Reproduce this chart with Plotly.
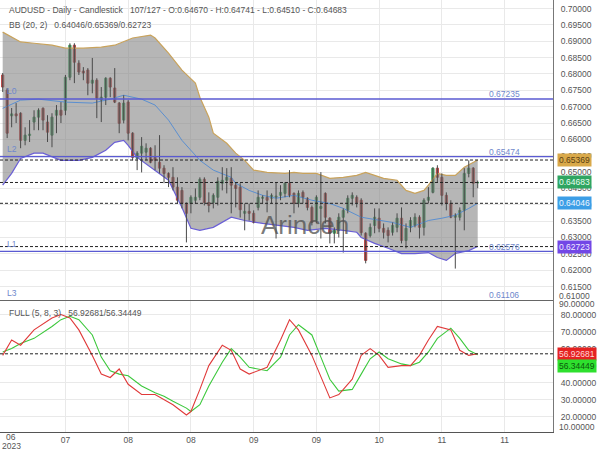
import plotly.graph_objects as go

# ---------------- data ----------------
opens = [0.6797,0.6751,0.6672,0.6678,0.6680,0.6597,0.6612,0.6653,0.6668,0.6695,
         0.6653,0.6613,0.6674,0.6689,0.6689,0.6790,0.6888,0.6833,0.6809,0.6812,
         0.6772,0.6781,0.6720,0.6729,0.6787,0.6757,0.6711,0.6659,0.6714,0.6619,
         0.6542,0.6558,0.6561,0.6573,0.6545,0.6530,0.6512,0.6496,0.6484,0.6454,
         0.6444,0.6404,0.6404,0.6414,0.6423,0.6478,0.6407,0.6407,0.6423,0.6466,
         0.6475,0.6481,0.6460,0.6454,0.6374,0.6380,0.6374,0.6392,0.6420,0.6423,
         0.6420,0.6423,0.6429,0.6435,0.6466,0.6435,0.6404,0.6438,0.6420,0.6392,
         0.6352,0.6389,0.6435,0.6359,0.6313,0.6322,0.6362,0.6383,0.6420,0.6423,
         0.6414,0.6313,0.6306,0.6337,0.6359,0.6328,0.6322,0.6316,0.6331,0.6359,
         0.6291,0.6331,0.6337,0.6362,0.6331,0.6414,0.6438,0.6512,0.6484,0.6429,
         0.6404,0.6362,0.6362,0.6383,0.6496,0.6512,0.64670]
highs = [0.6803,0.6757,0.6696,0.6711,0.6683,0.6637,0.6659,0.6689,0.6695,0.6698,
         0.6674,0.6680,0.6705,0.6714,0.6797,0.6894,0.6894,0.6842,0.6821,0.6818,
         0.6849,0.6787,0.6760,0.6790,0.6790,0.6818,0.6714,0.6735,0.6720,0.6622,
         0.6564,0.6607,0.6588,0.6576,0.6582,0.6613,0.6521,0.6499,0.6515,0.6484,
         0.6454,0.6407,0.6429,0.6450,0.6484,0.6484,0.6438,0.6435,0.6484,0.6515,
         0.6512,0.6515,0.6469,0.6466,0.6404,0.6404,0.6383,0.6444,0.6429,0.6444,
         0.6435,0.6469,0.6460,0.6469,0.6506,0.6438,0.6444,0.6444,0.6423,0.6398,
         0.6429,0.6500,0.6438,0.6362,0.6331,0.6374,0.6389,0.6429,0.6438,0.6429,
         0.6420,0.6316,0.6343,0.6389,0.6389,0.6343,0.6331,0.6346,0.6374,0.6392,
         0.6343,0.6362,0.6374,0.6368,0.6420,0.6454,0.6515,0.6521,0.6496,0.6438,
         0.6414,0.6374,0.6392,0.6512,0.6536,0.6515,0.64741]
lows  = [0.6745,0.6604,0.6637,0.6650,0.6573,0.6582,0.6592,0.6628,0.6628,0.6628,
         0.6592,0.6576,0.6619,0.6650,0.6674,0.6781,0.6772,0.6797,0.6781,0.6735,
         0.6741,0.6665,0.6653,0.6705,0.6729,0.6711,0.6619,0.6649,0.6597,0.6536,
         0.6506,0.6499,0.6536,0.6527,0.6506,0.6496,0.6466,0.6454,0.6444,0.6404,
         0.6389,0.6285,0.6374,0.6404,0.6414,0.6398,0.6377,0.6389,0.6398,0.6444,
         0.6435,0.6374,0.6392,0.6361,0.6322,0.6352,0.6343,0.6383,0.6404,0.6377,
         0.6404,0.6297,0.6414,0.6423,0.6423,0.6374,0.6392,0.6404,0.6383,0.6337,
         0.6343,0.6297,0.6343,0.6282,0.6282,0.6300,0.6254,0.6374,0.6398,0.6392,
         0.6306,0.6221,0.6300,0.6313,0.6316,0.6297,0.6285,0.6306,0.6316,0.6282,
         0.6267,0.6316,0.6331,0.6297,0.6306,0.6404,0.6435,0.6469,0.6398,0.6383,
         0.6359,0.6205,0.6352,0.6322,0.6484,0.6423,0.64510]
closes = [0.6760,0.6619,0.6678,0.6672,0.6597,0.6613,0.6616,0.6668,0.6689,0.6659,
          0.6622,0.6668,0.6689,0.6674,0.6790,0.6888,0.6836,0.6806,0.6803,0.6772,
          0.6781,0.6726,0.6729,0.6787,0.6760,0.6714,0.6649,0.6711,0.6619,0.6545,
          0.6558,0.6579,0.6573,0.6530,0.6536,0.6512,0.6496,0.6484,0.6454,0.6414,
          0.6404,0.6374,0.6423,0.6423,0.6478,0.6407,0.6398,0.6429,0.6472,0.6475,
          0.6484,0.6460,0.6450,0.6385,0.6380,0.6374,0.6346,0.6423,0.6423,0.6414,
          0.6429,0.6426,0.6438,0.6466,0.6429,0.6404,0.6435,0.6423,0.6392,0.6346,
          0.6423,0.6395,0.6362,0.6313,0.6322,0.6362,0.6383,0.6420,0.6429,0.6407,
          0.6315,0.6230,0.6331,0.6362,0.6328,0.6316,0.6306,0.6337,0.6359,0.6291,
          0.6328,0.6352,0.6362,0.6331,0.6414,0.6423,0.6512,0.6484,0.6429,0.6404,
          0.6362,0.6368,0.6383,0.6496,0.6512,0.6466,0.64683]

bb_upper_x = [0,4,7,11,14,18,22,25,29,33,34,37,40,43,44,46,47,50,52,54,56,59,63,65,67,70,73,76,79,81,83,85,88,90,92,94,95,97,99,101,103,105,106]
bb_upper   = [0.6928,0.6898,0.6894,0.6888,0.6879,0.6879,0.6882,0.6888,0.6910,0.6919,0.6910,0.6864,0.6812,0.6772,0.6729,0.6668,0.6619,0.6588,0.6558,0.6536,0.6506,0.6499,0.6496,0.6499,0.6496,0.6496,0.6481,0.6484,0.6490,0.6499,0.6490,0.6481,0.6475,0.6444,0.6435,0.6444,0.6460,0.6496,0.6490,0.6490,0.6515,0.6530,0.65369]
bb_lower_x = [0,2,4,7,9,13,17,20,23,25,27,28,30,33,37,40,42,44,47,51,54,58,62,65,68,72,76,79,80,83,86,89,92,95,97,99,101,104,106]
bb_lower   = [0.6460,0.6496,0.6542,0.6558,0.6558,0.6536,0.6536,0.6545,0.6567,0.6591,0.6597,0.6582,0.6545,0.6515,0.6475,0.6392,0.6328,0.6322,0.6331,0.6362,0.6352,0.6343,0.6337,0.6331,0.6322,0.6328,0.6322,0.6316,0.6300,0.6282,0.6267,0.6251,0.6251,0.6254,0.6239,0.6230,0.6251,0.6260,0.62723]
bb_mid_x = [0,4,8,14,20,24,27,31,34,37,40,44,47,51,52,55,58,61,65,69,73,76,80,84,87,91,95,98,101,104,106]
bb_mid   = [0.6695,0.6720,0.6723,0.6714,0.6711,0.6723,0.6735,0.6723,0.6705,0.6659,0.6597,0.6536,0.6506,0.6484,0.6466,0.6444,0.6429,0.6420,0.6429,0.6414,0.6404,0.6389,0.6362,0.6352,0.6346,0.6331,0.6352,0.6359,0.6368,0.6389,0.64046]

stoch_x = [0,2,4,7,11,13,15,17,20,22,24,26,28,31,34,36,38,41,42,44,46,49,51,53,55,59,62,64,66,69,71,73,75,78,80,82,84,86,89,91,93,95,97,100,102,104,106]
stoch_k = [56,65,62,71,78,80,78,71,56,45,43,48,39,33,33,30,27,21,23,36,50,62,59,48,45,49,65,77,71,56,43,31,33,42,56,60,56,49,50,50,56,65,73,71,59,56,56.92681]
stoch_d = [58,60,63,66,73,77,79,77,68,55,47,45,44,38,34,32,29,25,23,27,38,52,60,55,49,47,55,68,74,68,55,42,35,36,45,54,58,54,51,50,52,58,66,72,66,59,56.34449]

levels = {"L0": 0.67235, "L2": 0.65474, "L1": 0.62576, "L3": 0.61106}
bb_last = {"mid": 0.64046, "upper": 0.65369, "lower": 0.62723}
last_close = 0.64683

tick_bars = [14, 28, 42, 56, 70, 84, 98, 112]
tick_text = ["07", "08", "08", "09", "09", "10", "11", "11"]
price_ticks = [0.610 + 0.005 * k for k in range(19)]
stoch_ticks = [20, 30, 40, 50, 60, 70, 80]

# ---------------- geometry helpers ----------------
W, H = 600, 450
ML, MR, MT, MB = 0, 47, 0, 18
PW, PH = W - ML - MR, H - MT - MB
def px(x):
    return x / PW
def py(y):
    return 1 - y / PH

FONT = "Liberation Sans, Arial, sans-serif"
GRID = "#e9e9e9"
TXT = "#555555"

fig = go.Figure()
n = len(opens)
bars = list(range(n))

# Bollinger fill + lines
fig.add_trace(go.Scatter(x=bb_upper_x, y=bb_upper, mode="lines",
                         line=dict(color="#c9a35c", width=1.2), xaxis="x2", yaxis="y",
                         hoverinfo="skip", showlegend=False))
fig.add_trace(go.Scatter(x=bb_lower_x, y=bb_lower, mode="lines", fill="tonexty",
                         fillcolor="rgba(130,130,130,0.58)",
                         line=dict(color="#6a5fd6", width=1.2), xaxis="x2", yaxis="y",
                         hoverinfo="skip", showlegend=False))
fig.add_trace(go.Scatter(x=bb_mid_x, y=bb_mid, mode="lines",
                         line=dict(color="#5b8fd0", width=1), xaxis="x2", yaxis="y",
                         hoverinfo="skip", showlegend=False))

# wicks
wx, wy = [], []
for i in bars:
    wx += [i, i, None]
    wy += [lows[i], highs[i], None]
fig.add_trace(go.Scatter(x=wx, y=wy, mode="lines", line=dict(color="#4a4a4a", width=1),
                         xaxis="x2", yaxis="y", hoverinfo="skip", showlegend=False))

# candle bodies
body_hi = [max(o, c) for o, c in zip(opens, closes)]
body_lo = [min(o, c) for o, c in zip(opens, closes)]
fig.add_trace(go.Candlestick(x=bars, open=opens, high=body_hi, low=body_lo, close=closes,
                             increasing=dict(line=dict(color="#3f9e5e", width=1), fillcolor="#4caf6a"),
                             decreasing=dict(line=dict(color="#b84444", width=1), fillcolor="#c9504e"),
                             whiskerwidth=0, xaxis="x2", yaxis="y", showlegend=False))

# stochastic
fig.add_trace(go.Scatter(x=stoch_x, y=stoch_d, mode="lines", line=dict(color="#3cc83c", width=1.1),
                         xaxis="x", yaxis="y2", hoverinfo="skip", showlegend=False))
fig.add_trace(go.Scatter(x=stoch_x, y=stoch_k, mode="lines", line=dict(color="#e03a3a", width=1.1),
                         xaxis="x", yaxis="y2", hoverinfo="skip", showlegend=False))

shapes = []
# level lines (L3 sits on the panel divider)
for name, v in levels.items():
    if name == "L3":
        continue
    shapes.append(dict(type="line", xref="paper", yref="y", x0=0, x1=1, y0=v, y1=v,
                       line=dict(color="#5a5ad2", width=1.3), layer="above"))
# dotted lines at current values
for v in list(bb_last.values()) + [last_close]:
    shapes.append(dict(type="line", xref="paper", yref="y", x0=0, x1=1, y0=v, y1=v,
                       line=dict(color="#222222", width=1, dash="3px,2px"), layer="above"))
shapes.append(dict(type="line", xref="paper", yref="y2", x0=0, x1=1, y0=stoch_k[-1], y1=stoch_k[-1],
                   line=dict(color="#222222", width=1, dash="3px,2px"), layer="above"))
# panel divider
shapes.append(dict(type="line", xref="paper", yref="paper", x0=0, x1=1, y0=py(300.5), y1=py(300.5),
                   line=dict(color="#666666", width=1.2), layer="above"))

ann = []
def text(x, y, s, size=8.5, color=TXT, xanchor="left", **kw):
    ann.append(dict(x=x, y=y, xref="paper", yref="paper", text=s, showarrow=False,
                    xanchor=xanchor, yanchor="middle", font=dict(family=FONT, size=size, color=color), **kw))

text(px(7), py(10), "AUDUSD - Daily - Candlestick &nbsp; 107/127 - O:0.64670 - H:0.64741 - L:0.64510 - C:0.64683")
text(px(7), py(25), f"BB (20, 2) &nbsp; {bb_last['mid']:.5f}/{bb_last['upper']:.5f}/{bb_last['lower']:.5f}")
text(px(7), py(313), f"FULL (5, 8, 3) &nbsp; {stoch_k[-1]:.5f}/{stoch_d[-1]:.5f}")

# level labels
LV = "#6f88cc"
lv_pos = {"L0": (91, 94), "L2": (149, 152), "L1": (244, 247), "L3": (293, 295)}
for name, v in levels.items():
    ly, vy = lv_pos[name]
    text(px(5), py(ly), name, color=LV)
    text(px(504), py(vy), f"{v:.5f}", color=LV, xanchor="center")

# watermark
text(px(305), py(225), "Arincen", size=26, color="rgba(80,80,80,0.75)", xanchor="center")

# x label first
text(px(11), py(437), "06", xanchor="center")
text(px(11), py(446), "2023", xanchor="center")

# clamped axis labels
text(px(557), py(296), "0.61000", xanchor="left")
text(px(557), py(304), "90.00000", xanchor="left")
text(px(557), py(427), "10.00000", xanchor="left")

# value boxes on axis
def box(yval, yref, s, bg, fg, yshift=0):
    ann.append(dict(x=1, y=yval, xref="paper", yref=yref, text=s, showarrow=False,
                    xanchor="left", yanchor="middle", xshift=4, yshift=yshift, bgcolor=bg, borderpad=1,
                    font=dict(family=FONT, size=8.5, color=fg)))
box(bb_last["upper"], "y", f"{bb_last['upper']:.5f}", "#d9a94a", "#5a4012")
box(last_close, "y", f"{last_close:.5f}", "#2fa561", "#e8fff0")
box(bb_last["mid"], "y", f"{bb_last['mid']:.5f}", "#3c9ee6", "#eef6ff")
box(bb_last["lower"], "y", f"{bb_last['lower']:.5f}", "#7247e6", "#f0ebff")
box(stoch_k[-1], "y2", f"{stoch_k[-1]:.5f}", "#e52222", "#ffd6d6")
box(stoch_d[-1], "y2", f"{stoch_d[-1]:.5f}", "#2ee02e", "#0c5a0c", yshift=-11)

xr = [-0.6, 122.8]
fig.update_layout(
    width=W, height=H, margin=dict(l=ML, r=MR, t=MT, b=MB),
    paper_bgcolor="white", plot_bgcolor="white", showlegend=False,
    xaxis=dict(domain=[0, 1], anchor="y2", range=xr, tickvals=tick_bars, ticktext=tick_text,
               showgrid=True, gridcolor=GRID, zeroline=False, showline=True, linecolor="#555",
               linewidth=1.2, ticks="", tickfont=dict(family=FONT, size=8.5, color=TXT),
               rangeslider=dict(visible=False)),
    xaxis2=dict(domain=[0, 1], anchor="y", range=xr, matches="x", tickvals=tick_bars,
                showticklabels=False, showgrid=True, gridcolor=GRID, zeroline=False,
                rangeslider=dict(visible=False)),
    yaxis=dict(domain=[py(300.5), 1], anchor="x2", side="right", range=[0.61074, 0.70262],
               tickvals=price_ticks, ticktext=[f"{v:.5f}" for v in price_ticks],
               showgrid=True, gridcolor=GRID, zeroline=False, showline=True, linecolor="#777",
               ticks="", ticklabelstandoff=5, tickfont=dict(family=FONT, size=8.5, color=TXT)),
    yaxis2=dict(domain=[0, py(300.5)], anchor="x", side="right", range=[10.97, 88.26],
                tickvals=stoch_ticks, ticktext=[f"{v:.5f}" for v in stoch_ticks],
                showgrid=True, gridcolor=GRID, zeroline=False, showline=True, linecolor="#777",
                ticks="", ticklabelstandoff=5, tickfont=dict(family=FONT, size=8.5, color=TXT)),
    shapes=shapes, annotations=ann,
)

fig.write_html("out.html")
